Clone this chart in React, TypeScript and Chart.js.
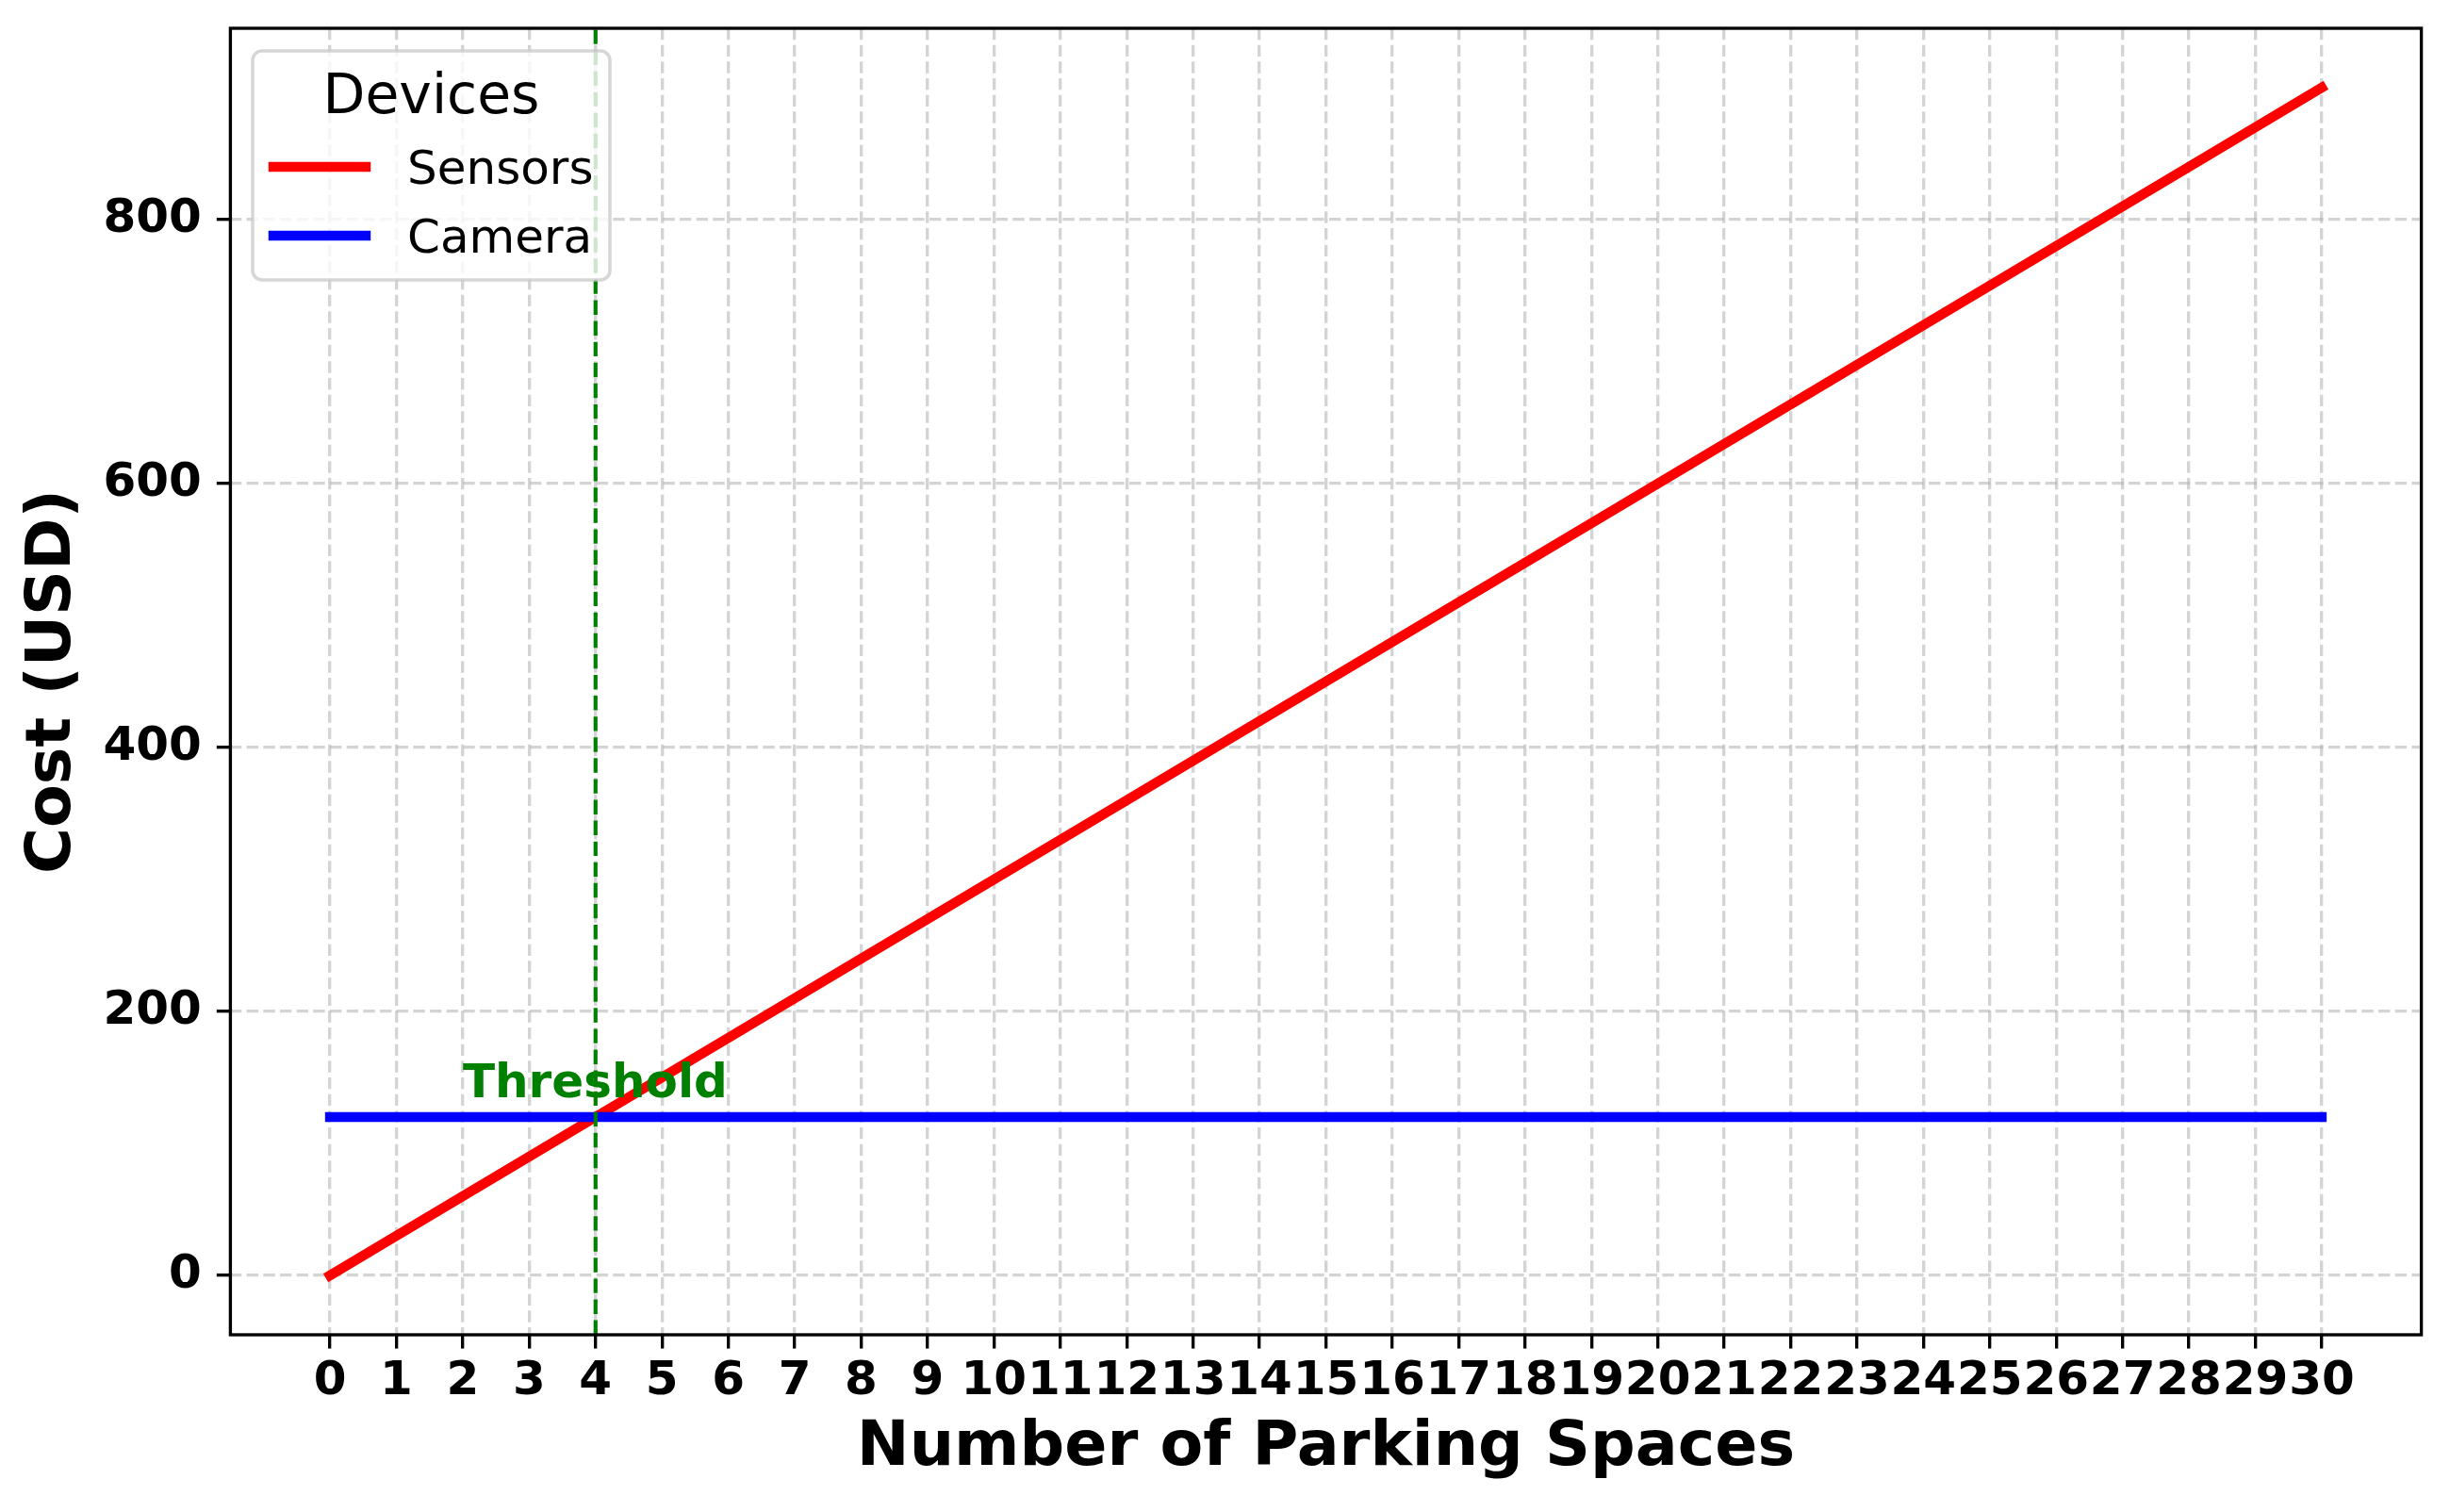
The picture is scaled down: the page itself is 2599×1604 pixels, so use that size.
import React, { useEffect, useRef } from 'react';
import { Chart, registerables } from 'chart.js';

Chart.register(...registerables);

// ---------- data ----------
const PARKING_SPACES = [0, 1, 2, 3, 4, 5, 6, 7, 8, 9, 10, 11, 12, 13, 14, 15, 16, 17, 18, 19, 20, 21, 22, 23, 24, 25, 26, 27, 28, 29, 30];
const SENSOR_COST = [0, 30, 60, 90, 120, 150, 180, 210, 240, 270, 300, 330, 360, 390, 420, 450, 480, 510, 540, 570, 600, 630, 660, 690, 720, 750, 780, 810, 840, 870, 900];
const CAMERA_COST = [120, 120, 120, 120, 120, 120, 120, 120, 120, 120, 120, 120, 120, 120, 120, 120, 120, 120, 120, 120, 120, 120, 120, 120, 120, 120, 120, 120, 120, 120, 120];
const SERIES_LABELS = ['Sensors', 'Camera'];
const SERIES_COLORS = ['#ff0000', '#0000ff'];
const LEGEND_TITLE = 'Devices';
const THRESHOLD_SPACES = 4;
const THRESHOLD_LABEL = 'Threshold';
const THRESHOLD_LABEL_X = 2;
const THRESHOLD_LABEL_Y = 135;
const X_TICKS = [0, 1, 2, 3, 4, 5, 6, 7, 8, 9, 10, 11, 12, 13, 14, 15, 16, 17, 18, 19, 20, 21, 22, 23, 24, 25, 26, 27, 28, 29, 30];
const Y_TICKS = [0, 200, 400, 600, 800];
const X_LIMITS = [-1.5, 31.5];
const Y_LIMITS = [-45, 945];
const X_TITLE = 'Number of Parking Spaces';
const Y_TITLE = 'Cost (USD)';

// ---------- styles ----------
const W = 2599;
const H = 1604;
const FONT = '"DejaVu Sans", "Liberation Sans", sans-serif';
const PT = 300 / 72;
const LINE_W = 2.5 * PT;
const GRID_COLOR = 'rgba(176,176,176,0.55)';
const GRID_W = 0.8 * PT;
const GRID_DASH = [3.7 * 0.8 * PT, 1.6 * 0.8 * PT];

const overlayPlugin = {
  id: 'overlay',
  afterDatasetsDraw(chart: any) {
    const { ctx, chartArea: a, scales } = chart;
    const xs = scales.x;
    const ys = scales.y;
    ctx.save();

    // threshold vertical line
    const tx = xs.getPixelForValue(THRESHOLD_SPACES);
    ctx.beginPath();
    ctx.strokeStyle = '#008000';
    ctx.lineWidth = 1 * PT;
    ctx.setLineDash([3.7 * PT, 1.6 * PT]);
    ctx.moveTo(tx, a.bottom);
    ctx.lineTo(tx, a.top);
    ctx.stroke();
    ctx.setLineDash([]);

    // spines
    ctx.strokeStyle = '#000';
    ctx.lineWidth = 0.8 * PT;
    ctx.strokeRect(a.left, a.top, a.right - a.left, a.bottom - a.top);

    // threshold text
    ctx.fillStyle = '#008000';
    ctx.font = `bold ${12 * PT}px ${FONT}`;
    ctx.textAlign = 'left';
    ctx.textBaseline = 'alphabetic';
    ctx.fillText(THRESHOLD_LABEL, xs.getPixelForValue(THRESHOLD_LABEL_X), ys.getPixelForValue(THRESHOLD_LABEL_Y));

    // legend
    const lx = a.left + 23.6;
    const ly = a.top + 24;
    const lw = 379;
    const lh = 243;
    ctx.beginPath();
    ctx.roundRect(lx, ly, lw, lh, 10);
    ctx.fillStyle = 'rgba(255,255,255,0.8)';
    ctx.fill();
    ctx.strokeStyle = 'rgba(204,204,204,0.8)';
    ctx.lineWidth = 3.5;
    ctx.stroke();

    ctx.fillStyle = '#000';
    ctx.font = `normal ${14 * PT}px ${FONT}`;
    ctx.textAlign = 'center';
    ctx.fillText(LEGEND_TITLE, lx + lw / 2, ly + 66);

    ctx.font = `normal ${12 * PT}px ${FONT}`;
    ctx.textAlign = 'left';
    SERIES_LABELS.forEach((label, i) => {
      const rowY = ly + 123 + i * 73;
      ctx.beginPath();
      ctx.strokeStyle = SERIES_COLORS[i];
      ctx.lineWidth = LINE_W;
      ctx.lineCap = 'square';
      ctx.moveTo(lx + 22, rowY);
      ctx.lineTo(lx + 120, rowY);
      ctx.stroke();
      ctx.fillStyle = '#000';
      ctx.fillText(label, lx + 164, ly + 141 + i * 73);
    });

    ctx.restore();
  },
};

export default function App() {
  const ref = useRef<HTMLCanvasElement | null>(null);

  useEffect(() => {
    document.body.style.margin = '0';
    const canvas = ref.current;
    if (!canvas) return;

    const seriesValues = [SENSOR_COST, CAMERA_COST];
    const datasets = SERIES_LABELS.map((label, i) => ({
      label,
      data: PARKING_SPACES.map((x, j) => ({ x, y: seriesValues[i][j] })),
      borderColor: SERIES_COLORS[i],
      backgroundColor: SERIES_COLORS[i],
      borderWidth: LINE_W,
      borderCapStyle: 'square' as const,
      pointRadius: 0,
      pointHoverRadius: 0,
      tension: 0,
      fill: false,
      order: SERIES_LABELS.length - i,
    }));

    const tickFont = { family: FONT, size: 12 * PT, weight: 'bold' as const, lineHeight: 1.2 };
    const titleFont = { family: FONT, size: 16 * PT, weight: 'bold' as const, lineHeight: 1.2 };
    const gridCommon = {
      color: GRID_COLOR,
      lineWidth: GRID_W,
      drawTicks: true,
      tickColor: '#000',
      tickWidth: 0.8 * PT,
      tickLength: 3.5 * PT,
      tickBorderDash: [],
    };
    const clearPad = (s: any) => {
      s.paddingTop = 0;
      s.paddingBottom = 0;
      s.paddingLeft = 0;
      s.paddingRight = 0;
    };

    const chart = new Chart(canvas, {
      type: 'line',
      data: { datasets },
      plugins: [overlayPlugin],
      options: {
        animation: false,
        responsive: false,
        devicePixelRatio: 1,
        events: [],
        layout: { padding: { top: 30, right: 30.4, left: 0, bottom: 0 } },
        plugins: {
          legend: { display: false },
          tooltip: { enabled: false },
          title: { display: false },
        },
        scales: {
          x: {
            type: 'linear',
            min: X_LIMITS[0],
            max: X_LIMITS[1],
            afterBuildTicks: (s: any) => {
              s.ticks = X_TICKS.map((v) => ({ value: v }));
            },
            afterFit: (s: any) => {
              s.height = 188;
              clearPad(s);
            },
            ticks: {
              autoSkip: false,
              maxRotation: 0,
              minRotation: 0,
              padding: 5,
              color: '#000',
              font: tickFont,
              callback: (v: any) => String(v),
            },
            grid: gridCommon,
            border: { display: false, dash: GRID_DASH },
            title: {
              display: true,
              text: X_TITLE,
              color: '#000',
              font: titleFont,
              padding: { top: 0, bottom: 27 },
            },
          },
          y: {
            type: 'linear',
            min: Y_LIMITS[0],
            max: Y_LIMITS[1],
            afterBuildTicks: (s: any) => {
              s.ticks = Y_TICKS.map((v) => ({ value: v }));
            },
            afterFit: (s: any) => {
              s.width = 244.4;
              clearPad(s);
            },
            ticks: {
              padding: 16,
              color: '#000',
              font: tickFont,
              callback: (v: any) => String(v),
            },
            grid: gridCommon,
            border: { display: false, dash: GRID_DASH },
            title: {
              display: true,
              text: Y_TITLE,
              color: '#000',
              font: titleFont,
              padding: { top: 17, bottom: 0 },
            },
          },
        },
      },
    });

    return () => {
      chart.destroy();
    };
  }, []);

  return (
    <div style={{ position: 'absolute', left: 0, top: 0, width: W, height: H, background: '#fff' }}>
      <canvas ref={ref} width={W} height={H} style={{ display: 'block', width: W, height: H }} />
    </div>
  );
}
